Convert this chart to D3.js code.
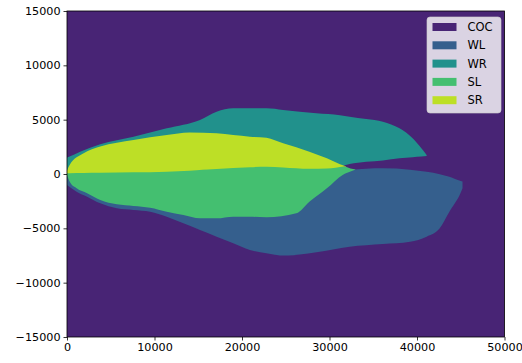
<!DOCTYPE html>
<html>
<head>
<meta charset="utf-8">
<script src="https://cdn.jsdelivr.net/npm/d3@7"></script>
<style>
  body { margin: 0; background: #fff; }
  text { font-family: "DejaVu Sans", sans-serif; }
</style>
</head>
<body>
<div id="chart"></div>
<script>
// region names (legend order) and axis ticks
const categories = ['COC', 'WL', 'WR', 'SL', 'SR'];
const xTicks = [0, 10000, 20000, 30000, 40000, 50000];
const yTicks = [-15000, -10000, -5000, 0, 5000, 10000, 15000];

// WR: upper outer region
const wrX  = [0, 300, 1500, 3800, 7600, 11400, 15200, 17100, 19000, 22800, 24700, 28500, 31200, 32300, 34200, 36100, 38000, 39500, 40500, 41100];
const wrHi = [1500, 1600, 2050, 2730, 3430, 4200, 4970, 5730, 6040, 6040, 5890, 5580, 5400, 5270, 5050, 4810, 4200, 3280, 2360, 1750];
const wrLo = [0, 0, 0, 0, 0, 0, 0, 0, 0, 0, 0, 300, 670, 920, 1130, 1250, 1440, 1550, 1600, 1650];

// SR: upper inner region
const srX  = [0, 300, 1900, 3800, 7600, 11400, 14000, 17100, 20900, 22800, 24700, 27700, 29700, 31700, 31900];
const srHi = [300, 830, 1900, 2520, 3130, 3590, 3830, 3740, 3430, 3340, 2820, 2050, 1440, 760, 720];
const srLo = [60, 80, 100, 120, 150, 210, 300, 450, 620, 670, 600, 480, 500, 690, 700];

// SL: lower inner region
const slX  = [0, 300, 1100, 2300, 3800, 5700, 7600, 9500, 11400, 13300, 15200, 17100, 19000, 20900, 22800, 26200, 27700, 29700, 31500, 32700, 33000];
const slLo = [-100, -700, -1320, -1780, -2390, -2790, -2940, -3100, -3470, -3770, -4080, -4080, -3930, -3930, -3990, -3620, -2550, -1320, -90, 330, 400];
const slHi = [160, 180, 200, 200, 220, 240, 250, 280, 310, 350, 400, 550, 650, 720, 770, 620, 580, 600, 720, 450, 400];

// WL: lower outer region
const wlX  = [0, 1100, 2300, 3800, 5700, 7600, 9500, 11400, 13300, 15200, 17100, 19000, 20900, 22800, 24700, 28500, 32300, 36100, 39200, 41100, 42600, 43700, 45000, 45200];
const wlLo = [-1010, -1630, -2090, -2700, -3160, -3310, -3470, -3930, -4540, -5150, -5770, -6380, -6990, -7300, -7510, -7210, -6690, -6440, -6230, -5770, -5000, -3470, -1700, -1300];
const wlHi = [0, 0, 0, 0, 0, 0, 0, 0, 0, 0, 0, 0, 0, 0, 0, 0, 370, 520, 400, 200, -20, -250, -650, -700];

const W = 522, H = 363;
const margin = { top: 11, right: 17.5, bottom: 26, left: 67 };
const fontSize = 11.2;

const colors = d3.scaleOrdinal()
  .domain(categories)
  .range(categories.map((d, i) => d3.interpolateViridis(0.1 + 0.2 * i)));

const svg = d3.select('#chart').append('svg')
  .attr('width', W)
  .attr('height', H);

const x = d3.scaleLinear().domain([0, 50000]).range([margin.left, W - margin.right]);
const y = d3.scaleLinear().domain([-15000, 15000]).range([H - margin.bottom, margin.top]);

// background = COC
svg.append('rect')
  .attr('x', x(0)).attr('y', y(15000))
  .attr('width', x(50000) - x(0))
  .attr('height', y(-15000) - y(15000))
  .attr('fill', colors('COC'));

const regions = [
  { name: 'WL', xs: wlX, lo: wlLo, hi: wlHi },
  { name: 'WR', xs: wrX, lo: wrLo, hi: wrHi },
  { name: 'SL', xs: slX, lo: slLo, hi: slHi },
  { name: 'SR', xs: srX, lo: srLo, hi: srHi }
];

const area = d3.area()
  .x(d => x(d.x))
  .y0(d => y(d.lo))
  .y1(d => y(d.hi))
  .curve(d3.curveMonotoneX);

regions.forEach(r => {
  const pts = r.xs.map((v, i) => ({ x: v, lo: r.lo[i], hi: r.hi[i] }));
  svg.append('path')
    .datum(pts)
    .attr('d', area)
    .attr('fill', colors(r.name));
});

// axes
const xAxis = svg.append('g')
  .attr('transform', `translate(0,${y(-15000)})`)
  .call(d3.axisBottom(x).tickValues(xTicks).tickFormat(d3.format('d')).tickSize(3.5).tickPadding(3));

const yAxis = svg.append('g')
  .attr('transform', `translate(${x(0)},0)`)
  .call(d3.axisLeft(y).tickValues(yTicks).tickFormat(d3.format('d')).tickSize(3.5).tickPadding(3));

[xAxis, yAxis].forEach(a => {
  a.select('.domain').remove();
  a.selectAll('text').attr('font-size', fontSize).attr('fill', '#000').attr('font-family', '"DejaVu Sans", sans-serif');
  a.selectAll('line').attr('stroke', '#000').attr('stroke-width', 0.8);
});

// spines
svg.append('rect')
  .attr('x', x(0)).attr('y', y(15000))
  .attr('width', x(50000) - x(0))
  .attr('height', y(-15000) - y(15000))
  .attr('fill', 'none')
  .attr('stroke', '#000')
  .attr('stroke-width', 0.8);

// legend
const legend = svg.append('g').attr('transform', 'translate(427,17)');
legend.append('rect')
  .attr('width', 74).attr('height', 96)
  .attr('rx', 3)
  .attr('fill', '#fff').attr('fill-opacity', 0.8)
  .attr('stroke', '#ccc').attr('stroke-opacity', 0.8)
  .attr('stroke-width', 0.8);

const items = legend.selectAll('.item')
  .data(categories)
  .enter().append('g')
  .attr('class', 'item')
  .attr('transform', (d, i) => `translate(0,${10 + i * 18.3})`);

items.append('rect')
  .attr('x', 5.5).attr('y', -4)
  .attr('width', 24).attr('height', 8)
  .attr('fill', d => colors(d));

items.append('text')
  .attr('x', 40.5).attr('y', 0)
  .attr('dy', '0.36em')
  .attr('font-size', 11.5)
  .attr('fill', '#000')
  .text(d => d);
</script>
</body>
</html>
